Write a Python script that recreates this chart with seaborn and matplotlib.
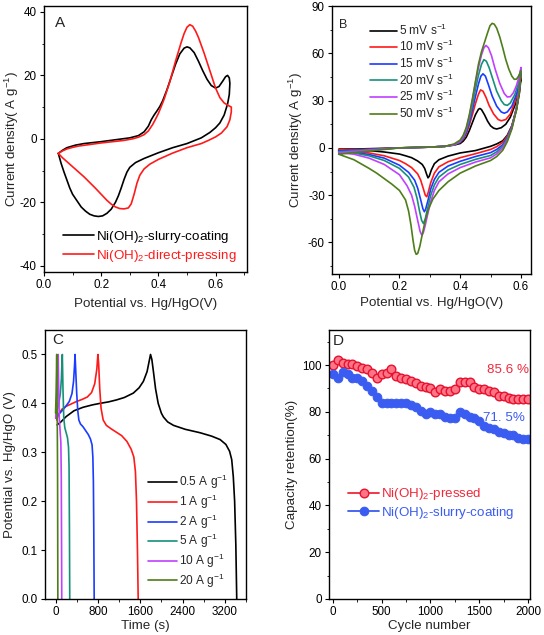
import matplotlib
matplotlib.use("Agg")
import matplotlib.pyplot as plt
import seaborn as sns
from matplotlib.ticker import MultipleLocator, FormatStrFormatter

# ---------------- Panel A data ----------------
a_slurry_x = [0.05, 0.065, 0.08, 0.11, 0.14, 0.20, 0.25, 0.30, 0.33, 0.35, 0.365, 0.375, 0.385, 0.395, 0.405, 0.415,
              0.43, 0.445, 0.46, 0.475, 0.49, 0.50, 0.51, 0.525, 0.54, 0.555, 0.57, 0.585, 0.60, 0.612, 0.625, 0.635,
              0.642, 0.648, 0.65,
              0.648, 0.642, 0.63, 0.615, 0.60, 0.58, 0.55, 0.50, 0.45, 0.40, 0.35, 0.32, 0.30, 0.29, 0.28, 0.27,
              0.26, 0.25, 0.235, 0.22, 0.205, 0.19, 0.175, 0.16, 0.145, 0.13, 0.115, 0.10, 0.09, 0.08, 0.07, 0.06, 0.05]
a_slurry_y = [-4.6, -3.6, -2.8, -2.0, -1.5, -0.9, -0.3, 0.3, 1.0, 2.2, 4.0, 6.0, 7.5, 8.8, 10.2, 12.0,
              15.5, 19.5, 23.5, 26.8, 28.6, 29.0, 28.7, 27.2, 24.5, 21.5, 18.8, 16.8, 16.0, 16.5, 18.2, 19.6,
              20.0, 19.2, 17.5,
              14, 11, 7.5, 5.0, 3.5, 2.0, 0.3, -1.5, -2.8, -4.4, -6.2, -7.5, -9.0, -10.5, -12.8, -15.5,
              -18, -20, -22.2, -23.5, -24.3, -24.5, -24.3, -23.8, -22.8, -21.5, -19.5, -17.5, -15.5, -13, -10.5, -7.8, -4.6]
a_press_x = [0.05, 0.065, 0.08, 0.10, 0.12, 0.16, 0.20, 0.25, 0.28, 0.31, 0.33, 0.35, 0.365, 0.38, 0.39, 0.40,
             0.41, 0.42, 0.44, 0.46, 0.48, 0.49, 0.50, 0.51, 0.52, 0.53, 0.54, 0.56, 0.58, 0.60, 0.615, 0.63,
             0.645, 0.655,
             0.655, 0.65, 0.64, 0.62, 0.60, 0.575, 0.55, 0.50, 0.45, 0.40, 0.37, 0.35, 0.335, 0.325, 0.315, 0.305,
             0.295, 0.28, 0.265, 0.25, 0.235, 0.22, 0.20, 0.18, 0.16, 0.14, 0.12, 0.10, 0.08, 0.065, 0.05]
a_press_y = [-4.6, -3.8, -3.2, -2.7, -2.3, -1.8, -1.3, -0.8, -0.5, 0, 0.5, 1.3, 2.5, 4.5, 6.2, 8,
             10.2, 12.5, 18, 24.5, 30.5, 33.2, 35.2, 36, 35.5, 34, 32, 27, 21.5, 16, 13, 11.3,
             10.5, 10,
             8.5, 6, 3.8, 1.8, 0.6, -0.5, -1.5, -2.8, -4.5, -6.5, -8, -9.5, -11.5, -14, -17.5, -20.5,
             -21.8, -22.1, -22, -21.5, -20.6, -19.4, -17.5, -15.6, -13.8, -12, -10.4, -8.8, -7.2, -6, -4.6]
a_labels = ["Ni(OH)$_2$-slurry-coating", "Ni(OH)$_2$-direct-pressing"]

# ---------------- Panel B data ----------------
b_labels = ["5 mV s$^{-1}$", "10 mV s$^{-1}$", "15 mV s$^{-1}$", "20 mV s$^{-1}$", "25 mV s$^{-1}$", "50 mV s$^{-1}$"]
b5_x = [0, 0.1, 0.2, 0.3, 0.35, 0.38, 0.40, 0.41, 0.42, 0.43, 0.44, 0.45, 0.46, 0.465, 0.47, 0.48, 0.49, 0.50,
        0.51, 0.52, 0.535, 0.55, 0.565, 0.58, 0.59, 0.60,
        0.595, 0.585, 0.57, 0.555, 0.54, 0.52, 0.50, 0.45, 0.40, 0.36, 0.33, 0.315, 0.305, 0.298, 0.294, 0.29,
        0.283, 0.275, 0.26, 0.24, 0.22, 0.20, 0.15, 0.10, 0.05, 0.0]
b5_y = [-1, -0.5, 0, 0.5, 1, 1.8, 2.8, 4.3, 6.8, 11, 16, 21, 24.5, 25, 24.3, 21, 17, 14,
        12.5, 12, 12.8, 15, 19.5, 27, 34, 44,
        35, 24, 14, 8, 4.5, 2.5, 1, -1.7, -3.2, -5.2, -7.5, -10, -14, -18, -19, -17,
        -13, -10.5, -8.3, -6.2, -5, -3.9, -2.6, -1.7, -1.2, -1]
b10_x = [0, 0.1, 0.2, 0.3, 0.35, 0.38, 0.40, 0.41, 0.42, 0.43, 0.44, 0.45, 0.46, 0.467, 0.475, 0.485, 0.495,
         0.51, 0.525, 0.535, 0.55, 0.565, 0.58, 0.59, 0.60,
         0.595, 0.585, 0.57, 0.555, 0.54, 0.52, 0.50, 0.45, 0.40, 0.36, 0.33, 0.315, 0.303, 0.295, 0.29, 0.285,
         0.278, 0.27, 0.26, 0.24, 0.22, 0.20, 0.15, 0.10, 0.05, 0.0]
b10_y = [-1.5, -0.8, 0, 0.5, 1, 2, 3.5, 5.5, 9, 14.5, 21, 28, 34, 36.8, 36, 32, 27,
         21.5, 18, 17.2, 18, 21.5, 29, 36, 46,
         36, 25, 14, 7.5, 3.5, 0.8, -1, -3.7, -6.2, -8.8, -12, -16, -22, -28, -31, -30,
         -25.5, -20.5, -16.5, -12.5, -10, -8, -5, -3.2, -2.2, -1.5]
b15_x = [0, 0.1, 0.2, 0.3, 0.35, 0.38, 0.40, 0.41, 0.42, 0.43, 0.44, 0.45, 0.46, 0.468, 0.475, 0.483, 0.493,
         0.505, 0.52, 0.535, 0.545, 0.555, 0.57, 0.585, 0.595, 0.60,
         0.595, 0.585, 0.57, 0.555, 0.54, 0.52, 0.50, 0.45, 0.40, 0.36, 0.33, 0.315, 0.303, 0.293, 0.286, 0.282,
         0.277, 0.27, 0.26, 0.25, 0.23, 0.20, 0.15, 0.10, 0.05, 0.0]
b15_y = [-2, -1, 0, 0.5, 1, 2, 3.8, 6, 10, 16, 24, 32.5, 40.5, 45.5, 47, 45.5, 40,
         33, 26.5, 22.8, 22, 22.8, 26.5, 34, 41, 48,
         37, 25, 13.5, 6.5, 2, -1, -3, -5.5, -8.5, -11.5, -15.5, -20, -26, -34, -39, -40.5,
         -38.5, -33, -25.5, -20.5, -15.5, -11, -6.5, -4.2, -2.8, -2]
b20_x = [0, 0.1, 0.2, 0.3, 0.35, 0.38, 0.40, 0.41, 0.42, 0.43, 0.44, 0.45, 0.46, 0.47, 0.478, 0.486, 0.495,
         0.505, 0.52, 0.535, 0.545, 0.555, 0.565, 0.58, 0.59, 0.60,
         0.595, 0.585, 0.57, 0.555, 0.54, 0.52, 0.50, 0.45, 0.40, 0.36, 0.33, 0.315, 0.303, 0.293, 0.285, 0.279,
         0.273, 0.266, 0.258, 0.248, 0.23, 0.20, 0.15, 0.10, 0.05, 0.0]
b20_y = [-2.5, -1.2, 0, 0.5, 1, 2, 4, 6.5, 11, 18, 27, 37, 46, 53, 56, 55, 51,
         45, 36, 30, 27.5, 27, 28.5, 34, 40, 49,
         38, 25, 13, 6, 1, -2.5, -4.8, -7.3, -10.5, -14, -18.5, -23.5, -30, -38, -45, -48,
         -46, -40, -32, -25, -18.5, -13, -8, -5, -3.3, -2.5]
b25_x = [0, 0.1, 0.2, 0.3, 0.35, 0.38, 0.40, 0.41, 0.42, 0.43, 0.44, 0.45, 0.46, 0.47, 0.478, 0.485, 0.493,
         0.503, 0.515, 0.53, 0.545, 0.555, 0.565, 0.575, 0.585, 0.595, 0.60,
         0.595, 0.585, 0.57, 0.555, 0.54, 0.52, 0.50, 0.45, 0.40, 0.36, 0.33, 0.315, 0.303, 0.293, 0.285, 0.279,
         0.274, 0.268, 0.26, 0.25, 0.24, 0.225, 0.20, 0.15, 0.10, 0.05, 0.0]
b25_y = [-3, -1.5, 0, 0.5, 1, 2, 4.3, 7, 12, 20, 30, 41, 51, 59, 63.5, 65, 63.5,
         58.5, 50, 41, 34.5, 32.3, 32.5, 35, 39.5, 46, 51,
         39, 25, 12.5, 5, 0, -3.8, -6.3, -9, -12.5, -16.5, -21.5, -27, -34, -42, -49, -53.5,
         -55.5, -53, -46, -37, -30, -24, -17, -10.5, -6.5, -4, -3]
b50_x = [0, 0.1, 0.2, 0.3, 0.35, 0.38, 0.40, 0.41, 0.42, 0.43, 0.44, 0.45, 0.46, 0.47, 0.48, 0.49, 0.498,
         0.505, 0.512, 0.52, 0.53, 0.54, 0.55, 0.56, 0.57, 0.578, 0.585, 0.592, 0.60,
         0.595, 0.585, 0.57, 0.555, 0.54, 0.52, 0.50, 0.45, 0.40, 0.36, 0.33, 0.31, 0.295, 0.285, 0.275, 0.267,
         0.26, 0.255, 0.25, 0.245, 0.238, 0.23, 0.22, 0.20, 0.175, 0.15, 0.125, 0.10, 0.05, 0.0]
b50_y = [-4, -2, 0, 0.5, 1, 2.5, 5, 8, 13, 21, 31, 42, 53, 61, 67, 73, 77.5,
         79, 78.5, 76, 70.5, 63.5, 56, 50, 45.5, 43.5, 43.6, 45.5, 49,
         37, 24, 12, 4, -1.5, -5.5, -8, -11.5, -16, -21.5, -27, -32.5, -39, -46, -55, -62.5,
         -67, -67.5, -65, -59, -49, -40, -33, -27, -23, -19.5, -16, -13, -7.5, -4]

# ---------------- Panel C data ----------------
c_labels = ["0.5 A g$^{-1}$", "1 A g$^{-1}$", "2 A g$^{-1}$", "5 A g$^{-1}$", "10 A g$^{-1}$", "20 A g$^{-1}$"]
c05_t = [30, 100, 200, 350, 520, 700, 840, 1000, 1150, 1300, 1470, 1580, 1660, 1730, 1795, 1820, 1850, 1890, 1940,
         2000, 2040, 2120, 2230, 2450, 2730, 2950, 3110, 3220, 3290, 3330, 3360, 3385, 3408, 3425]
c05_v = [0.356, 0.362, 0.373, 0.385, 0.392, 0.397, 0.400, 0.403, 0.407, 0.412, 0.421, 0.432, 0.445, 0.465, 0.50,
         0.49, 0.465, 0.43, 0.40, 0.38, 0.372, 0.362, 0.355, 0.347, 0.34, 0.333, 0.326, 0.316, 0.302, 0.285,
         0.25, 0.2, 0.11, 0.0]
c1_t = [20, 60, 120, 200, 300, 400, 500, 600, 680, 740, 780, 800, 815, 835, 860, 900, 960, 1050, 1150, 1250,
        1350, 1430, 1480, 1510, 1530, 1548, 1562]
c1_v = [0.366, 0.378, 0.388, 0.394, 0.399, 0.404, 0.408, 0.413, 0.422, 0.44, 0.47, 0.50, 0.48, 0.43, 0.39,
        0.366, 0.355, 0.348, 0.341, 0.334, 0.322, 0.306, 0.29, 0.26, 0.2, 0.1, 0.0]
c2_t = [10, 40, 80, 140, 200, 260, 310, 340, 360, 368, 380, 400, 420, 440, 470, 520, 570, 620, 660, 690,
        705, 715, 722, 730]
c2_v = [0.37, 0.375, 0.38, 0.387, 0.395, 0.404, 0.42, 0.445, 0.48, 0.50, 0.47, 0.42, 0.385, 0.366, 0.358,
        0.352, 0.344, 0.336, 0.327, 0.315, 0.29, 0.24, 0.15, 0.0]
c5_t = [5, 30, 60, 90, 110, 122, 128, 140, 155, 175, 200, 225, 245, 255, 262, 268]
c5_v = [0.37, 0.385, 0.40, 0.42, 0.45, 0.49, 0.50, 0.43, 0.37, 0.35, 0.34, 0.33, 0.31, 0.27, 0.15, 0.0]
c10_t = [2, 20, 35, 45, 50, 58, 70, 85, 100, 108, 113, 117]
c10_v = [0.37, 0.40, 0.43, 0.47, 0.50, 0.44, 0.37, 0.345, 0.32, 0.25, 0.12, 0.0]
c20_t = [0, 10, 18, 22, 27, 33, 38, 41, 43]
c20_v = [0.38, 0.42, 0.47, 0.50, 0.42, 0.35, 0.25, 0.1, 0.0]

# ---------------- Panel D data ----------------
d_cycles = [0, 50, 100, 150, 200, 250, 300, 350, 400, 450, 500, 550, 600, 650, 700, 750, 800, 850, 900, 950,
            1000, 1050, 1100, 1150, 1200, 1250, 1300, 1350, 1400, 1450, 1500, 1550, 1600, 1650, 1700, 1750,
            1800, 1850, 1900, 1950, 2000]
d_pressed = [100, 102, 101, 100.4, 100.4, 99.6, 98.6, 98.3, 96.7, 94.3, 96.4, 96.7, 98.3, 95.3, 94.6, 93.9,
             93.2, 92.2, 91, 90.7, 90, 88.6, 89.7, 89, 89, 89.7, 92.6, 92.6, 92.6, 90.7, 89.7, 89.7, 89, 88.7,
             86.9, 86.8, 85.8, 85.6, 85.6, 85.6, 85.6]
d_slurry = [96, 94.5, 97, 96, 94.5, 94.5, 93, 91, 89, 86.5, 84, 84, 84, 84, 84, 84, 83, 82, 80.5, 79, 80, 79,
            79, 78, 77.5, 77.5, 80, 79, 78, 77.5, 76, 74, 73, 72.5, 71.5, 71, 70, 70, 69, 68.5, 68.5]
d_labels = ["Ni(OH)$_2$-pressed", "Ni(OH)$_2$-slurry-coating"]

# ---------------- style ----------------
sns.set_style("ticks")
plt.rcParams.update({
    "font.family": ["Liberation Sans", "DejaVu Sans"],
    "mathtext.fontset": "custom",
    "mathtext.rm": "Liberation Sans",
    "mathtext.it": "Liberation Sans:italic",
    "mathtext.default": "regular",
    "axes.unicode_minus": False,
    "axes.edgecolor": "black",
    "axes.linewidth": 1.0,
    "xtick.direction": "out",
    "ytick.direction": "out",
    "xtick.major.size": 3,
    "ytick.major.size": 3,
    "xtick.minor.size": 1.8,
    "ytick.minor.size": 1.8,
    "xtick.major.pad": 2.2,
    "ytick.major.pad": 2.2,
    "xtick.color": "black",
    "ytick.color": "black",
    "xtick.labelsize": 8.4,
    "ytick.labelsize": 8.4,
    "axes.labelsize": 9.6,
})

fig = plt.figure(figsize=(5.44, 6.35), dpi=100)
axA = fig.add_axes([0.0809, 0.5717, 0.3732, 0.4194])
axB = fig.add_axes([0.6103, 0.5685, 0.3658, 0.4220])
axC = fig.add_axes([0.0827, 0.0567, 0.3695, 0.4236])
axD = fig.add_axes([0.6048, 0.0567, 0.3695, 0.4236])

LW = 1.2
RED = "#ff1a1a"
COLORS6 = ["black", RED, "#1a3cff", "#17907a", "#c040ff", "#4f7d1a"]

# Panel A
sns.lineplot(x=a_slurry_x, y=a_slurry_y, sort=False, estimator=None, color="black", lw=LW, ax=axA, label=a_labels[0])
sns.lineplot(x=a_press_x, y=a_press_y, sort=False, estimator=None, color=RED, lw=LW, ax=axA, label=a_labels[1])
axA.set_xlim(0, 0.71)
axA.set_ylim(-42, 42)
axA.xaxis.set_major_locator(MultipleLocator(0.2))
axA.xaxis.set_minor_locator(MultipleLocator(0.1))
axA.yaxis.set_major_locator(MultipleLocator(20))
axA.yaxis.set_minor_locator(MultipleLocator(10))
axA.xaxis.set_major_formatter(FormatStrFormatter("%.1f"))
axA.set_xlabel("Potential vs. Hg/HgO(V)")
axA.set_ylabel("Current density( A g$^{-1}$)")
axA.legend(loc="center left", bbox_to_anchor=(0.094, 0.096), frameon=False, fontsize=9.6,
           handlelength=2.35, handletextpad=0.15, labelspacing=0.2, borderpad=0, borderaxespad=0)
for t, c in zip(axA.get_legend().get_texts(), ["black", RED]):
    t.set_color(c)
axA.text(0.054, 0.96, "A", transform=axA.transAxes, fontsize=11, va="top", ha="left")

# Panel B
b_series = [(b5_x, b5_y), (b10_x, b10_y), (b15_x, b15_y), (b20_x, b20_y), (b25_x, b25_y), (b50_x, b50_y)]
for (xs, ys), col, lab in zip(b_series, COLORS6, b_labels):
    sns.lineplot(x=xs, y=ys, sort=False, estimator=None, color=col, lw=LW, ax=axB, label=lab)
axB.set_xlim(-0.022, 0.633)
axB.set_ylim(-80, 90)
axB.xaxis.set_major_locator(MultipleLocator(0.2))
axB.xaxis.set_minor_locator(MultipleLocator(0.1))
axB.yaxis.set_major_locator(MultipleLocator(30))
axB.yaxis.set_minor_locator(MultipleLocator(15))
axB.xaxis.set_major_formatter(FormatStrFormatter("%.1f"))
axB.set_xlabel("Potential vs. Hg/HgO(V)")
axB.set_ylabel("Current density( A g$^{-1}$)")
axB.legend(loc="center left", bbox_to_anchor=(0.19, 0.755), frameon=False, fontsize=8.6,
           handlelength=2.3, handletextpad=0.15, labelspacing=0.12, borderpad=0, borderaxespad=0)
axB.text(0.035, 0.95, "B", transform=axB.transAxes, fontsize=9, va="top", ha="left")

# Panel C
c_series = [(c05_t, c05_v), (c1_t, c1_v), (c2_t, c2_v), (c5_t, c5_v), (c10_t, c10_v), (c20_t, c20_v)]
for (xs, ys), col, lab in zip(c_series, COLORS6, c_labels):
    sns.lineplot(x=xs, y=ys, sort=False, estimator=None, color=col, lw=LW, ax=axC, label=lab)
axC.set_xlim(-200, 3600)
axC.set_ylim(0, 0.55)
axC.xaxis.set_major_locator(MultipleLocator(800))
axC.xaxis.set_minor_locator(MultipleLocator(400))
axC.yaxis.set_major_locator(MultipleLocator(0.1))
axC.yaxis.set_major_formatter(FormatStrFormatter("%.1f"))
axC.set_xlabel("Time (s)")
axC.set_ylabel("Potential vs. Hg/HgO (V)")
axC.legend(loc="center left", bbox_to_anchor=(0.512, 0.251), frameon=False, fontsize=8.6,
           handlelength=2.45, handletextpad=0.15, labelspacing=0.12, borderpad=0, borderaxespad=0)
axC.text(0.035, 0.99, "C", transform=axC.transAxes, fontsize=11, va="top", ha="left")

# Panel D
PRED = "#f0283c"
PBLUE = "#3a5cf0"
sns.lineplot(x=d_cycles, y=d_pressed, estimator=None, color=PRED, lw=1.3, marker="o", markersize=6.2,
             markerfacecolor="#ff7585", markeredgecolor="#e81030", markeredgewidth=1.0, ax=axD, label=d_labels[0])
sns.lineplot(x=d_cycles, y=d_slurry, estimator=None, color=PBLUE, lw=1.3, marker="o", markersize=6.2,
             markerfacecolor=PBLUE, markeredgecolor=PBLUE, ax=axD, label=d_labels[1])
axD.set_xlim(-40, 2020)
axD.set_ylim(0, 115)
axD.xaxis.set_major_locator(MultipleLocator(500))
axD.xaxis.set_minor_locator(MultipleLocator(250))
axD.yaxis.set_major_locator(MultipleLocator(20))
axD.yaxis.set_minor_locator(MultipleLocator(10))
axD.set_xlabel("Cycle number")
axD.set_ylabel("Capacity retention(%)")
axD.legend(loc="center left", bbox_to_anchor=(0.095, 0.355), frameon=False, fontsize=9.6,
           handlelength=2.35, handletextpad=0.15, labelspacing=0.2, borderpad=0, borderaxespad=0)
for t, c in zip(axD.get_legend().get_texts(), [PRED, PBLUE]):
    t.set_color(c)
axD.text(1580, 97.9, "85.6 %", color=PRED, fontsize=9.6, va="center", ha="left")
axD.text(1540, 77.4, "71. 5%", color=PBLUE, fontsize=9.6, va="center", ha="left")
axD.text(0.02, 0.985, "D", transform=axD.transAxes, fontsize=11, va="top", ha="left")

# common styling
for ax in (axA, axB, axC, axD):
    for s in ax.spines.values():
        s.set_visible(True)
        s.set_color("black")
        s.set_linewidth(1.0)
    ax.tick_params(which="both", top=False, right=False)

label_pos = {axA: (-0.158, -0.12), axB: (-0.182, -0.108), axC: (-0.176, -0.1), axD: (-0.182, -0.1)}
for ax, (yx, xy) in label_pos.items():
    ax.yaxis.set_label_coords(yx, 0.5)
    ax.yaxis.label.set_va("center")
    ax.xaxis.set_label_coords(0.5, xy)
    ax.xaxis.label.set_va("center")

fig.savefig("out.png", dpi=100)
